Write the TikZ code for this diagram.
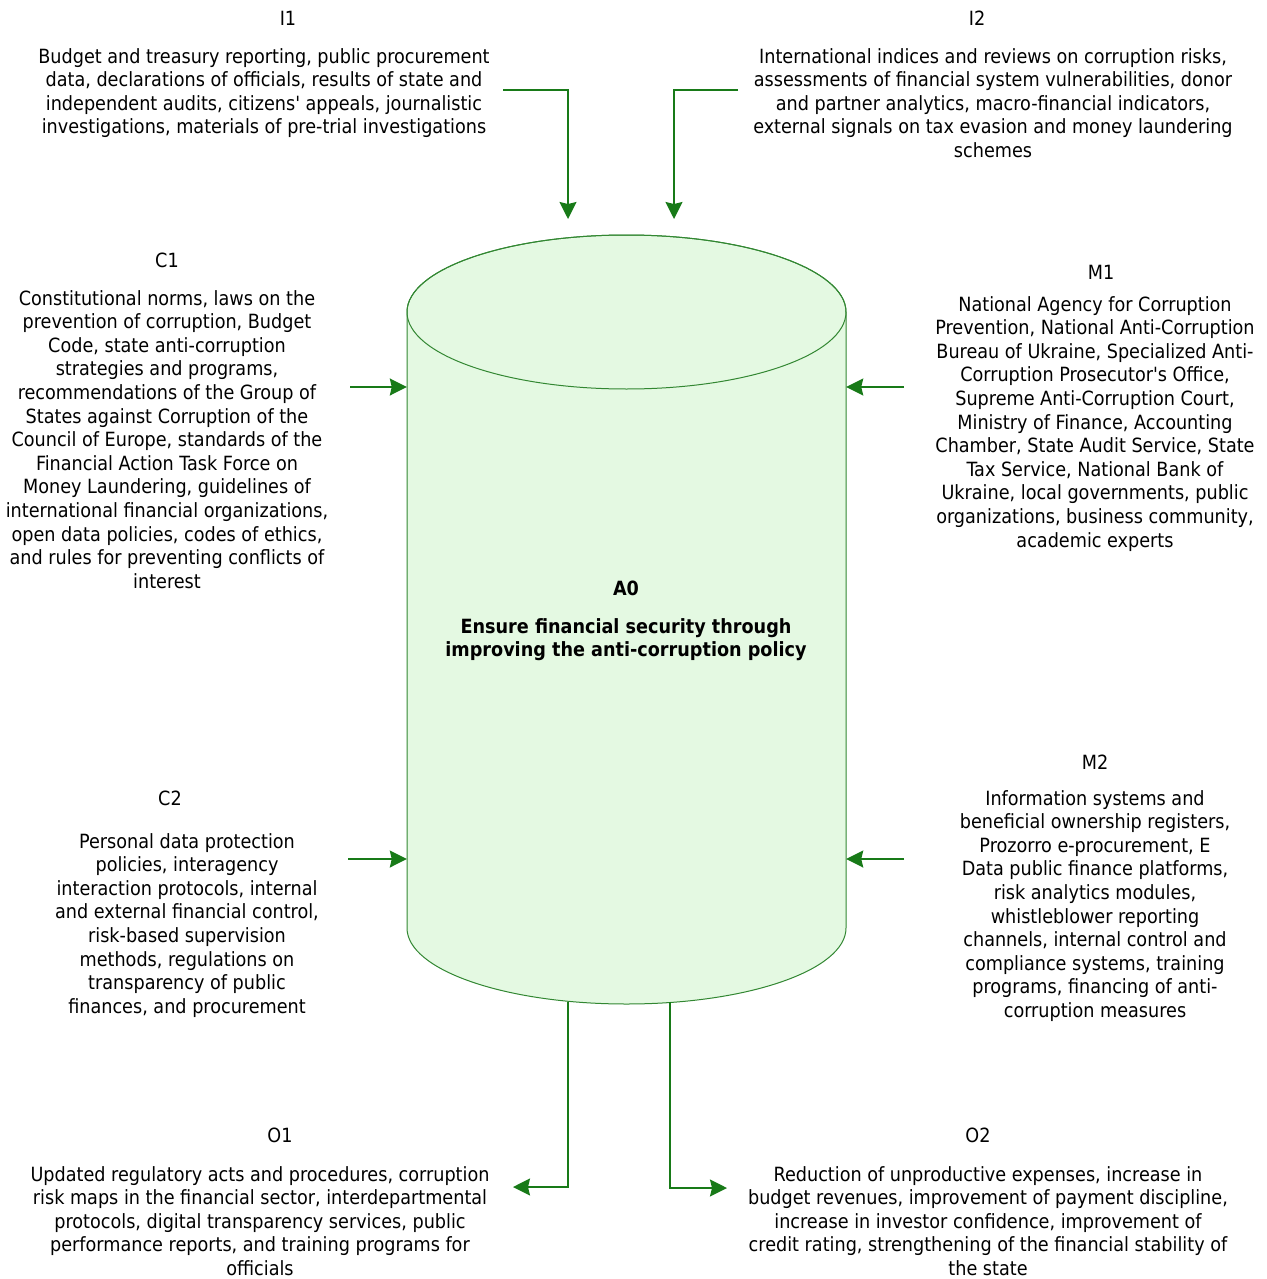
\documentclass[tikz,border=0pt]{standalone}
\usepackage{fontspec}
\IfFontExistsTF{DejaVu Sans Condensed}{\setmainfont{DejaVu Sans Condensed}}{\setmainfont{DejaVu Sans}}
\usetikzlibrary{arrows.meta}
\definecolor{flow}{RGB}{24,122,24}
\definecolor{cylfill}{RGB}{228,249,226}
\definecolor{cylline}{RGB}{50,135,50}
\tikzset{
  lbl/.style={inner sep=0pt, font=\fontsize{19.6}{23.6}\selectfont},
  txt/.style={inner sep=0pt, align=center, anchor=north, font=\fontsize{19.6}{23.6}\selectfont},
  arr/.style={draw=flow, line width=1.8pt, -{Stealth[length=17pt,width=17pt,inset=2pt]}},
}
\begin{document}
\begin{tikzpicture}[x=1pt,y=-1pt]
\useasboundingbox (0,0) rectangle (1266,1279);

% central function block (cylinder)
\node[minimum width=439pt, minimum height=769pt, inner sep=0pt] (a0) at (626.5,619.5) {};
\path[fill=cylfill, draw=cylline, line width=1pt]
  (407,312) -- (407,928) arc[start angle=180, end angle=0, x radius=219.5, y radius=76]
  -- (846,312) arc[start angle=0, end angle=-180, x radius=219.5, y radius=77] -- cycle;
\draw[cylline, line width=1pt] (626.5,312) ellipse [x radius=219.5, y radius=77];
\node[lbl, font=\fontsize{19.6}{23.6}\selectfont\bfseries] (a0id) at (626,588) {A0};
\node[txt, font=\fontsize{19.6}{23.6}\selectfont\bfseries] (a0name) at (626,618)
  {Ensure financial security through\\improving the anti-corruption policy};

% inputs
\node[lbl] (i1) at (288,18) {I1};
\node[txt] (i1t) at (264,48) {Budget and treasury reporting, public procurement\\data, declarations of officials, results of state and\\independent audits, citizens\textquotesingle{} appeals, journalistic\\investigations, materials of pre-trial investigations};
\node[lbl] (i2) at (977,18) {I2};
\node[txt] (i2t) at (993,48) {International indices and reviews on corruption risks,\\assessments of financial system vulnerabilities, donor\\and partner analytics, macro-financial indicators,\\external signals on tax evasion and money laundering\\schemes};

% controls
\node[lbl] (c1) at (167,260) {C1};
\node[txt] (c1t) at (167,290) {Constitutional norms, laws on the\\prevention of corruption, Budget\\Code, state anti-corruption\\strategies and programs,\\recommendations of the Group of\\States against Corruption of the\\Council of Europe, standards of the\\Financial Action Task Force on\\Money Laundering, guidelines of\\international financial organizations,\\open data policies, codes of ethics,\\and rules for preventing conflicts of\\interest};
\node[lbl] (c2) at (170,798) {C2};
\node[txt] (c2t) at (187,833) {Personal data protection\\policies, interagency\\interaction protocols, internal\\and external financial control,\\risk-based supervision\\methods, regulations on\\transparency of public\\finances, and procurement};

% mechanisms
\node[lbl] (m1) at (1101,272) {M1};
\node[txt] (m1t) at (1095,296) {National Agency for Corruption\\Prevention, National Anti-Corruption\\Bureau of Ukraine, Specialized Anti-\\Corruption Prosecutor\textquotesingle{}s Office,\\Supreme Anti-Corruption Court,\\Ministry of Finance, Accounting\\Chamber, State Audit Service, State\\Tax Service, National Bank of\\Ukraine, local governments, public\\organizations, business community,\\academic experts};
\node[lbl] (m2) at (1095,762) {M2};
\node[txt] (m2t) at (1095,790) {Information systems and\\beneficial ownership registers,\\Prozorro e-procurement, E\\Data public finance platforms,\\risk analytics modules,\\whistleblower reporting\\channels, internal control and\\compliance systems, training\\programs, financing of anti-\\corruption measures};

% outputs
\node[lbl] (o1) at (280,1135) {O1};
\node[txt] (o1t) at (260,1166) {Updated regulatory acts and procedures, corruption\\risk maps in the financial sector, interdepartmental\\protocols, digital transparency services, public\\performance reports, and training programs for\\officials};
\node[lbl] (o2) at (978,1135) {O2};
\node[txt] (o2t) at (988,1166) {Reduction of unproductive expenses, increase in\\budget revenues, improvement of payment discipline,\\increase in investor confidence, improvement of\\credit rating, strengthening of the financial stability of\\the state};

% connector ends
\coordinate (i1s) at (503,90);
\coordinate (i1e) at (568,219);
\coordinate (i2s) at (738,90);
\coordinate (i2e) at (674,219);
\coordinate (c1s) at (350,387);
\coordinate (c2s) at (348,859);
\coordinate (m1s) at (904,387);
\coordinate (m2s) at (904,859);
\coordinate (o1s) at (568,1002);
\coordinate (o1e) at (513,1187);
\coordinate (o2s) at (670,1002);
\coordinate (o2e) at (727,1188);

% connectors
\draw[arr] (i1s) -| (i1e);
\draw[arr] (i2s) -| (i2e);
\draw[arr] (c1s) -- (c1s -| a0.west);
\draw[arr] (c2s) -- (c2s -| a0.west);
\draw[arr] (m1s) -- (m1s -| a0.east);
\draw[arr] (m2s) -- (m2s -| a0.east);
\draw[arr] (o1s) |- (o1e);
\draw[arr] (o2s) |- (o2e);
\end{tikzpicture}
\end{document}
